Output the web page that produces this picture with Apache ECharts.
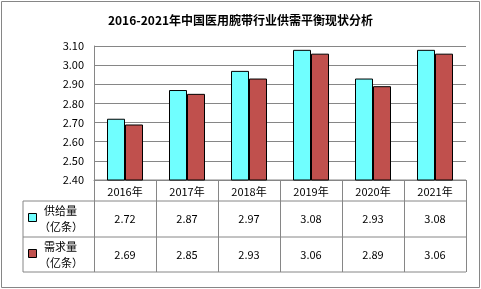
<!DOCTYPE html>
<html><head><meta charset="utf-8">
<script src="https://cdn.jsdelivr.net/npm/echarts@6/dist/echarts.min.js"></script>
<style>html,body{margin:0;padding:0;background:#fff}#c{width:481px;height:289px}</style>
</head><body><div id="c"></div>
<script>
var title = '2016-2021年中国医用腕带行业供需平衡现状分析';
var categories = ['2016年','2017年','2018年','2019年','2020年','2021年'];
var seriesNames = ['供给量', '需求量'];
var unitText = '（亿条）';
var supply = [2.72, 2.87, 2.97, 3.08, 2.93, 3.08];
var demand = [2.69, 2.85, 2.93, 3.06, 2.89, 3.06];
var yTicks = [2.40, 2.50, 2.60, 2.70, 2.80, 2.90, 3.00, 3.10];

(function () {
var colors = ['#70FFFF', '#C0504D'];
var font = '"Noto Sans CJK SC", "DejaVu Sans", sans-serif';
var lineColor = '#868686';
var chart = echarts.init(document.getElementById('c'));
var G = {left: 94, right: 15, top: 46, bottom: 109};
chart.setOption({
  animation: false,
  backgroundColor: '#fff',
  title: {text: title, left: 'center', top: 9, textStyle: {fontSize: 12, fontWeight: 'bold', color: '#000', fontFamily: font}},
  grid: G,
  xAxis: {type: 'category', data: categories,
    axisLine: {lineStyle: {color: lineColor, width: 1}},
    axisTick: {show: false},
    axisLabel: {margin: 6, fontSize: 11, color: '#000', fontFamily: font}},
  yAxis: {type: 'value', min: yTicks[0], max: yTicks[yTicks.length-1], interval: 0.1,
    axisLine: {show: true, lineStyle: {color: lineColor}},
    axisTick: {show: false},
    axisLabel: {margin: 10, fontSize: 11, color: '#000', fontFamily: font, formatter: function(v){return v.toFixed(2);}},
    splitLine: {lineStyle: {color: lineColor, width: 1}}},
  series: [
    {name: seriesNames[0], type: 'bar', data: supply, barWidth: 18, barGap: '0%',
      itemStyle: {color: colors[0], borderColor: '#000', borderWidth: 1}},
    {name: seriesNames[1], type: 'bar', data: demand, barWidth: 18, barGap: '0%',
      itemStyle: {color: colors[1], borderColor: '#000', borderWidth: 1}}
  ]
});

// build data table below the plot
var W = 481, H = 289;
var x0 = G.left, x1 = W - G.right, yAxisY = H - G.bottom;
var colW = (x1 - x0) / categories.length;
var rowH = [21, 36, 35];
var tableLeft = 23;
var yH = yAxisY + rowH[0], yR1 = yH + rowH[1], yR2 = yR1 + rowH[2];
var g = [];
function line(ax, ay, bx, by) {
  g.push({type: 'line', shape: {x1: ax, y1: ay, x2: bx, y2: by}, style: {stroke: lineColor, lineWidth: 1}, silent: true});
}
function text(str, x, y, align, spacing) {
  g.push({type: 'text', silent: true, style: {x: x, y: y, text: str, fontSize: 11, fontFamily: font, fill: '#000', align: align, verticalAlign: 'middle', textAlign: align, textVerticalAlign: 'middle', letterSpacing: spacing || 0}});
}
line(x0, yAxisY, x1, yAxisY);
line(tableLeft, yH, x1, yH);
line(tableLeft, yR1, x1, yR1);
line(tableLeft, yR2, x1, yR2);
line(tableLeft, yH, tableLeft, yR2);
for (var i = 0; i <= categories.length; i++) {
  var xx = Math.round(x0 + i * colW) + 0.5;
  line(xx, yAxisY, xx, yR2);
}
var rows = [supply, demand];
var rowTops = [yH, yR1];
for (var r = 0; r < 2; r++) {
  var rowTop = rowTops[r], h = rowH[r + 1];
  var cy = rowTop + h / 2;
  g.push({type: 'rect', shape: {x: tableLeft + 5.5, y: Math.round(cy - 6) + 0.5, width: 8, height: 8},
    style: {fill: colors[r], stroke: '#000', lineWidth: 1}, silent: true});
  text(seriesNames[r], tableLeft + 21, cy - 8, 'left', 2);
  text(unitText, tableLeft + 16, cy + 8, 'left', 0);
  for (var c = 0; c < categories.length; c++) {
    text(rows[r][c].toFixed(2), x0 + (c + 0.5) * colW, cy, 'center', 0);
  }
}
g.push({type: 'rect', shape: {x: 1.5, y: 1.5, width: W - 3, height: H - 3}, style: {fill: 'none', stroke: lineColor, lineWidth: 1}, silent: true});
chart.setOption({graphic: g});
})();
</script></body></html>
